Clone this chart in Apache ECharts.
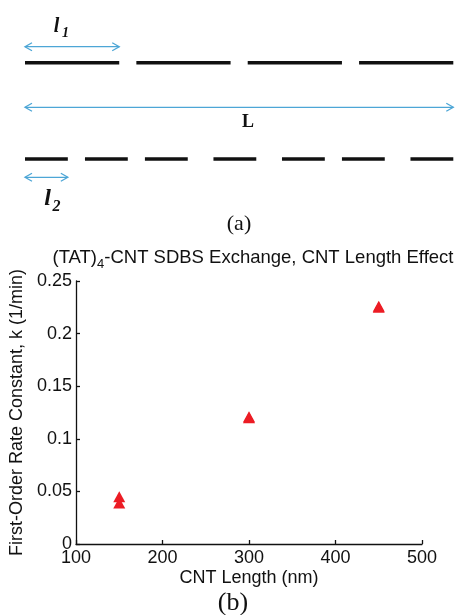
<!DOCTYPE html>
<html>
<head>
<meta charset="utf-8">
<script src="https://cdn.jsdelivr.net/npm/echarts@6/dist/echarts.min.js"></script>
<style>
  html, body { margin: 0; padding: 0; background: #fff; }
  #chart { width: 456px; height: 615px; }
</style>
</head>
<body>
<div id="chart"></div>
<script>
// ---- Panel (a): nanotube schematic, positions in units of the full length L (0..100)
const longSegStarts = [0, 26, 52, 78];                 // segments of length l1
const longSegLength = 22;
const shortSegStarts = [0, 14, 28, 44, 60, 74, 90];    // segments of length l2
const shortSegLength = 10;

// ---- Panel (b): rate constant vs. CNT length
const cntLength = [150, 150, 300, 300, 450, 450];      // nm
const rateConstant = [0.045, 0.039, 0.121, 0.120, 0.226, 0.225]; // 1/min
const xTickValues = [100, 200, 300, 400, 500];
const yTickValues = [0, 0.05, 0.1, 0.15, 0.2, 0.25];

// vertical placement of the schematic rows (panel units, top = 0)
const ROW = { arrowL1: 46.7, long: 62.7, arrowL: 107.3, short: 159, arrowL2: 177.3 };

const segData = []
  .concat(longSegStarts.map(s => [s, s + longSegLength, ROW.long]))
  .concat(shortSegStarts.map(s => [s, s + shortSegLength, ROW.short]));

const arrowData = [
  [0, longSegLength, ROW.arrowL1],
  [0, 100, ROW.arrowL],
  [0, shortSegLength, ROW.arrowL2]
];

const SANS = 'Liberation Sans, Arial, Helvetica, sans-serif';
const SERIF = 'Liberation Serif, Times New Roman, serif';
const ARROW_BLUE = '#4da6d6';

function renderSegment(params, api) {
  const a = api.coord([api.value(0), api.value(2)]);
  const b = api.coord([api.value(1), api.value(2)]);
  return {
    type: 'line',
    shape: { x1: a[0], y1: a[1], x2: b[0], y2: b[1] },
    style: { stroke: '#111', lineWidth: 3.4, lineCap: 'butt' }
  };
}

function renderArrow(params, api) {
  const a = api.coord([api.value(0), api.value(2)]);
  const b = api.coord([api.value(1), api.value(2)]);
  const hl = 7, hw = 4;
  const st = { stroke: ARROW_BLUE, lineWidth: 1.3, fill: null };
  return {
    type: 'group',
    children: [
      { type: 'line', shape: { x1: a[0], y1: a[1], x2: b[0], y2: b[1] }, style: st },
      { type: 'polyline', shape: { points: [[a[0] + hl, a[1] - hw], [a[0], a[1]], [a[0] + hl, a[1] + hw]] }, style: st },
      { type: 'polyline', shape: { points: [[b[0] - hl, b[1] - hw], [b[0], b[1]], [b[0] - hl, b[1] + hw]] }, style: st }
    ]
  };
}

function serifText(text, x, y, size, italic, bold) {
  return {
    type: 'text', x: x, y: y, silent: true,
    style: {
      text: text, fill: '#111', align: 'center', verticalAlign: 'middle',
      fontFamily: SERIF, fontSize: size,
      fontStyle: italic ? 'italic' : 'normal',
      fontWeight: bold ? 'bold' : 'normal'
    }
  };
}

const chart = echarts.init(document.getElementById('chart'), null, { renderer: 'canvas' });

chart.setOption({
  backgroundColor: '#fff',
  animation: false,
  title: {
    text: '{m|(TAT)}{s|4}{m|-CNT SDBS Exchange, CNT Length Effect}',
    left: 248, top: 243, textAlign: 'center',
    textStyle: {
      fontWeight: 'normal',
      rich: {
        m: { fontFamily: SANS, fontSize: 18.5, fontWeight: 'normal', color: '#111', lineHeight: 19, verticalAlign: 'top' },
        s: { fontFamily: SANS, fontSize: 13, fontWeight: 'normal', color: '#111', lineHeight: 13, padding: [10, 0, 0, 0], verticalAlign: 'top' }
      }
    }
  },
  grid: [
    { left: 25, top: 0, width: 428.3, height: 230 },
    { left: 76, top: 281, width: 346, height: 263 }
  ],
  xAxis: [
    { gridIndex: 0, type: 'value', min: 0, max: 100, show: false },
    {
      gridIndex: 1, type: 'value', min: xTickValues[0], max: xTickValues[xTickValues.length - 1], interval: 100,
      axisLine: { show: true, lineStyle: { color: '#111', width: 1.3 } },
      axisTick: { show: true, inside: true, length: 4, lineStyle: { color: '#111', width: 1.3 } },
      axisLabel: { color: '#111', fontFamily: SANS, fontSize: 18, margin: 5 },
      splitLine: { show: false },
      name: 'CNT Length (nm)', nameLocation: 'middle', nameGap: 25,
      nameTextStyle: { color: '#111', fontFamily: SANS, fontSize: 18 }
    }
  ],
  yAxis: [
    { gridIndex: 0, type: 'value', min: 0, max: 230, inverse: true, show: false },
    {
      gridIndex: 1, type: 'value', min: yTickValues[0], max: yTickValues[yTickValues.length - 1], interval: 0.05,
      axisLine: { show: true, lineStyle: { color: '#111', width: 1.3 } },
      axisTick: { show: true, inside: true, length: 4, lineStyle: { color: '#111', width: 1.3 } },
      axisLabel: { color: '#111', fontFamily: SANS, fontSize: 18, margin: 4 },
      splitLine: { show: false },
      name: 'First-Order Rate Constant, k (1/min)', nameLocation: 'middle', nameGap: 41,
      nameTextStyle: { color: '#111', fontFamily: SANS, fontSize: 18 }
    }
  ],
  series: [
    {
      type: 'custom', xAxisIndex: 0, yAxisIndex: 0, silent: true, clip: false,
      encode: { x: [0, 1], y: 2 }, data: segData, renderItem: renderSegment
    },
    {
      type: 'custom', xAxisIndex: 0, yAxisIndex: 0, silent: true, clip: false,
      encode: { x: [0, 1], y: 2 }, data: arrowData, renderItem: renderArrow
    },
    {
      type: 'scatter', xAxisIndex: 1, yAxisIndex: 1, silent: true,
      symbol: 'triangle', symbolSize: [12, 11],
      itemStyle: { color: '#ec1c24', opacity: 1 },
      data: cntLength.map((x, i) => [x, rateConstant[i]])
    }
  ],
  graphic: [
    serifText('l', 56.5, 26.5, 20, true, true),
    serifText('1', 65.5, 33.5, 14, true, true),
    serifText('L', 248, 122.5, 18, false, true),
    serifText('l', 47.5, 199, 24, true, true),
    serifText('2', 56.5, 206.7, 16, true, true),
    serifText('(a)', 239, 224, 22, false, false),
    serifText('(b)', 233, 603, 26, false, false)
  ]
});
</script>
</body>
</html>
